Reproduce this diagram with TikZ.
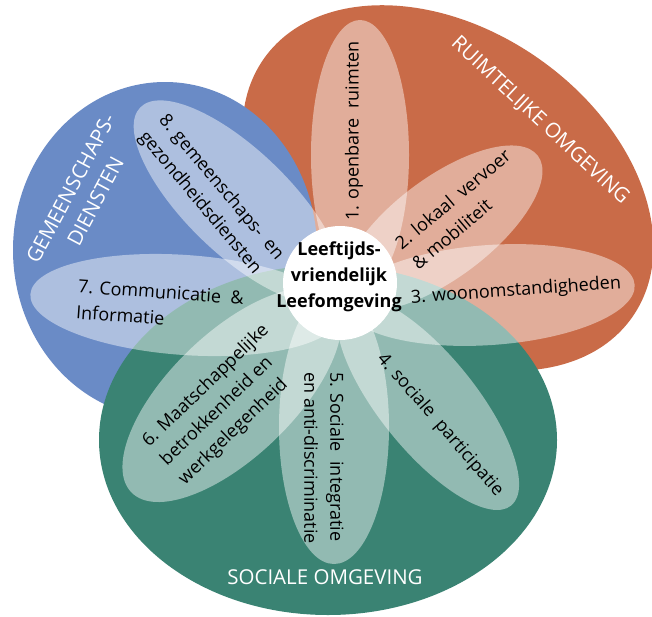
\documentclass[tikz,border=0pt]{standalone}
\usepackage{fontspec}
\setmainfont{Open Sans}
\definecolor{ruimte}{RGB}{201,107,72}
\definecolor{diensten}{RGB}{106,139,198}
\definecolor{sociaal}{RGB}{58,131,115}
\begin{document}
\begin{tikzpicture}[x=1pt,y=-1pt,
  petal/.style={fill=white,fill opacity=0.45},
  lbl/.style={font=\fontsize{18}{26}\selectfont, text=black, inner sep=0pt},
  areatitle/.style={font=\fontsize{20.5}{28}\selectfont, text=white, inner sep=0pt}]
\useasboundingbox (0,0) rectangle (652,616);

% three domains
\fill[ruimte, rotate around={-35:(448,188)}] (448,188) ellipse (225pt and 158pt);
\fill[diensten] (165,250) ellipse (152pt and 168pt);
\fill[sociaal] (328,440) ellipse (229pt and 175pt);

% eight petals
\fill[petal] (360,155) ellipse (49pt and 135pt);
\fill[petal, rotate around={37:(442,228)}] (442,228) ellipse (120pt and 50pt);
\fill[petal, rotate around={4:(490,295)}] (490,295) ellipse (145pt and 50pt);
\fill[petal, rotate around={-51:(428,403)}] (428,403) ellipse (132pt and 48pt);
\fill[petal] (334,427) ellipse (55pt and 137pt);
\fill[petal, rotate around={44:(232,395)}] (232,395) ellipse (140pt and 62pt);
\fill[petal, rotate around={-4:(185,305)}] (185,305) ellipse (155pt and 50pt);
\fill[petal, rotate around={-44:(238,202)}] (238,202) ellipse (136pt and 52pt);

% centre
\fill[white] (340,283) circle (57pt);
\node[lbl, font=\fontsize{18}{26}\selectfont\bfseries, align=center] (centre) at (339,277)
  {Leeftijds-\\vriendelijk\\Leefomgeving};

% domain titles
\node[areatitle, rotate=-43] (ruimtelijk) at (540,121) {RUIMTELIJKE OMGEVING};
\node[areatitle, rotate=62, align=center] (gemeenschap) at (83,195) {GEMEENSCHAPS-\\DIENSTEN};
\node[areatitle] (sociale) at (325,577) {SOCIALE OMGEVING};

% petal labels
\node[lbl, rotate=90] (p1) at (354,131) {1. openbare~~ruimten};
\node[lbl, rotate=40, align=left] (p2) at (461,209) {2. lokaal~~vervoer\\\& mobiliteit};
\node[lbl, rotate=4] (p3) at (516,291) {3. woonomstandigheden};
\node[lbl, rotate=-49] (p4) at (440,425) {4. sociale~~participatie};
\node[lbl, rotate=-90, align=left] (p5) at (324,458) {5. Sociale~~integratie\\en anti-discriminatie};
\node[lbl, rotate=44, align=left] (p6) at (224,405) {6. Maatschappelijke\\betrokkenheid en\\werkgelegenheid};
\node[lbl, rotate=-4, align=left] (p7) at (160,305) {7. Communicatie~~\&\\Informatie};
\node[lbl, rotate=-50, align=left] (p8) at (211,196) {8. gemeenschaps-~~en\\gezondheidsdiensten};
\end{tikzpicture}
\end{document}
